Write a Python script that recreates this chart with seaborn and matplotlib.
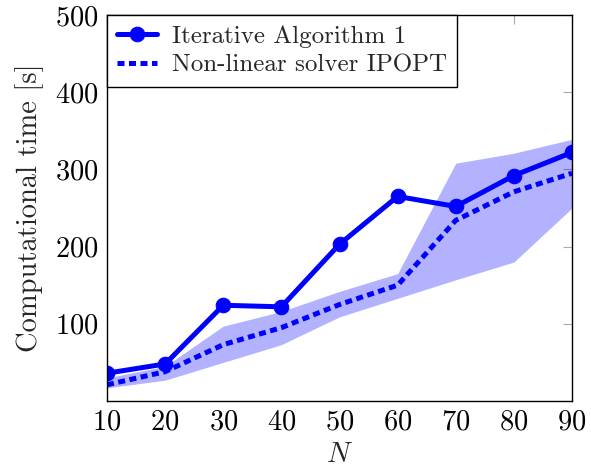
import matplotlib
matplotlib.use("Agg")
import matplotlib.pyplot as plt
import seaborn as sns
import pandas as pd

# Problem sizes and measured computation times
N = [10, 20, 30, 40, 50, 60, 70, 80, 90]
iterative_time = [36, 48, 124, 122, 203, 265, 252, 292, 322]
ipopt_time = [21, 38, 73, 95, 125, 150, 234, 271, 295]
ipopt_low = [17, 27, 50, 73, 109, 133, 157, 180, 250]
ipopt_high = [30, 45, 97, 116, 142, 165, 308, 321, 339]

sns.set_theme(style="white")
plt.rcParams["font.family"] = ["cmr10", "DejaVu Serif"]
plt.rcParams["mathtext.fontset"] = "cm"
plt.rcParams["axes.formatter.use_mathtext"] = True

FS = 20.5
LEG_FS = 18

df = pd.DataFrame({"N": N, "iter": iterative_time, "ipopt": ipopt_time})

fig = plt.figure(figsize=(5.91, 4.69), dpi=100)
ax = fig.add_axes([107 / 591, 68 / 469, 465 / 591, 386 / 469])

ax.fill_between(N, ipopt_low, ipopt_high, color="blue", alpha=0.3, linewidth=0)
sns.lineplot(data=df, x="N", y="iter", ax=ax, color="blue", linewidth=3.6,
             marker="o", markersize=10.5, markeredgecolor="blue",
             label="Iterative Algorithm 1")
sns.lineplot(data=df, x="N", y="ipopt", ax=ax, color="blue", linewidth=3.6,
             linestyle=(0, (1.4, 0.9)), label="Non-linear solver IPOPT")

ax.set_xlim(10, 90)
ax.set_ylim(0, 500)
ax.set_xticks(N)
ax.set_yticks([100, 200, 300, 400, 500])
ax.tick_params(axis="both", direction="in", length=6.5, width=0.8, color="#aaaaaa",
               labelsize=FS, top=True, right=True, pad=6, labelcolor="black")
for s in ax.spines.values():
    s.set_color("black")
    s.set_linewidth(1.0)

ax.set_xlabel(r"$N$", fontsize=FS, labelpad=4)
ax.set_ylabel("Computational time [s]", fontsize=FS, labelpad=8)

leg = ax.legend(loc="upper left", fontsize=LEG_FS, frameon=True, fancybox=False,
                edgecolor="black", borderaxespad=0, handlelength=1.6,
                borderpad=0.4, labelspacing=0.28, handletextpad=0.6)
leg.get_frame().set_linewidth(1.0)
leg.get_frame().set_alpha(1)

fig.savefig("out.png", dpi=100)
